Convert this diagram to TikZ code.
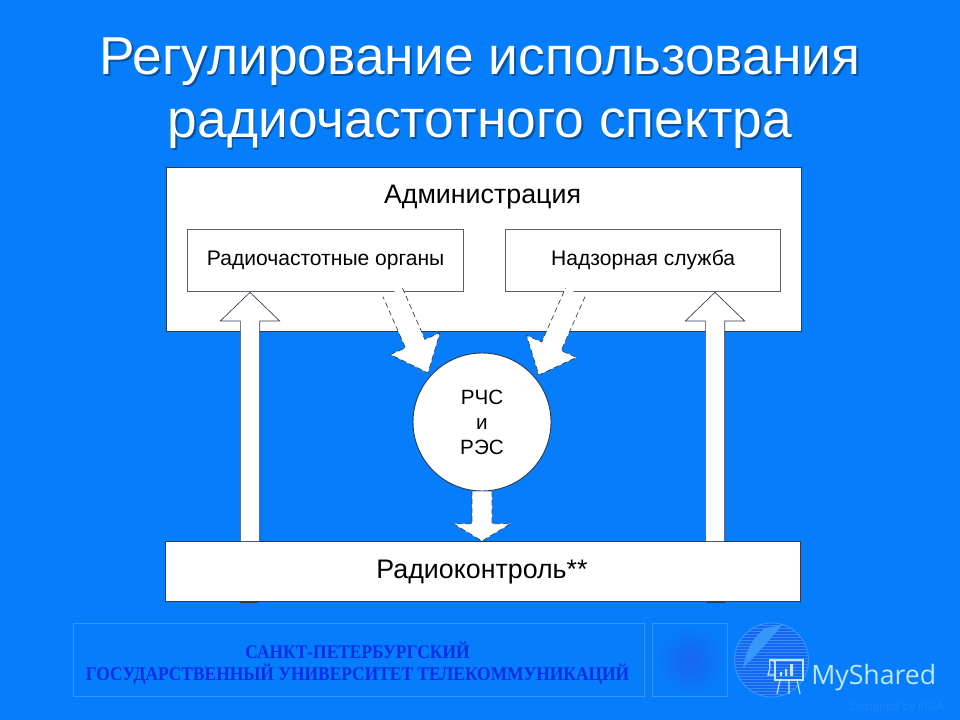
\documentclass[tikz,border=0pt]{standalone}
\usepackage{fontspec}
\setmainfont{Liberation Sans}
\newfontfamily\serifbold[BoldFont={Liberation Serif Bold}]{Liberation Serif}
\newfontfamily\wmfont{Open Sans}
\usetikzlibrary{calc}
\definecolor{bg}{RGB}{6,125,250}
\definecolor{edge}{RGB}{45,60,85}
\definecolor{inneredge}{RGB}{95,95,100}
\definecolor{foot}{RGB}{50,150,255}
\definecolor{foottext}{RGB}{10,45,230}
\definecolor{wm}{RGB}{190,230,255}
\definecolor{globe}{RGB}{25,100,240}
\newcommand\blockarrow[6][]{%
  \coordinate (neck) at ($(#3)!#6!(#2)$);
  \draw[blockline,#1]
    ($(#2)!#4/2!90:(#3)$) -- ($(neck)!#4/2!90:(#3)$) -- ($(neck)!#5/2!90:(#3)$) -- (#3)
    -- ($(neck)!#5/2!-90:(#3)$) -- ($(neck)!#4/2!-90:(#3)$) -- ($(#2)!#4/2!-90:(#3)$);
}
\tikzset{
  x=0.75pt,y=-0.75pt,
  blockline/.style={draw=edge,fill=white,line width=0.5pt,line join=miter},
  dashline/.style={dash pattern=on 4pt off 2.5pt},
  outerbox/.style={draw=edge,fill=white,line width=0.6pt,anchor=north west,inner sep=0pt},
  innerbox/.style={draw=inneredge,fill=white,line width=1pt,anchor=north west,inner sep=0pt,
    minimum width=207pt,minimum height=46.5pt,text height=11.5pt,text depth=3.5pt,
    font=\fontsize{15.8}{18}\selectfont},
  titletext/.style={anchor=base,text=white,inner sep=0pt,font=\fontsize{40}{46}\selectfont},
  titleshadow/.style={anchor=base,text=black!35!bg,inner sep=0pt,font=\fontsize{40}{46}\selectfont},
  bigtext/.style={inner sep=0pt,font=\fontsize{20.1}{22}\selectfont},
  foottxt/.style={anchor=base,inner sep=0pt,text=foottext,xscale=0.9,transform shape,
    font=\serifbold\bfseries\fontsize{14.5}{16}\selectfont},
  footbox/.style={draw=foot,line width=0.7pt,anchor=north west,inner sep=0pt},
}
\begin{document}
\begin{tikzpicture}
\useasboundingbox (0,0) rectangle (960,720);
\fill[bg] (0,0) rectangle (960,720);

% title
\node[titleshadow] (t1s) at (481.5,76.5) {Регулирование использования};
\node[titleshadow] (t2s) at (481.5,139.5) {радиочастотного спектра};
\node[titletext] (t1) at (480,75) {Регулирование использования};
\node[titletext] (t2) at (480,138) {радиочастотного спектра};

% boxes
\node[outerbox,minimum width=476.25pt,minimum height=123pt] (adm) at (166,167) {};
\node[bigtext,anchor=base] (admt) at (482.5,203.5) {Администрация};
\node[innerbox] (ro) at (187,229) {Радиочастотные органы};
\node[innerbox,minimum width=206.25pt] (nad) at (505,229) {Надзорная служба};
\node[circle,draw=edge,fill=white,line width=0.7pt,minimum size=103.5pt,inner sep=0pt,
  align=center,font=\fontsize{15.5}{18.75}\selectfont] (circ) at (482,422) {РЧС\\и\\РЭС};

% stub of the left and right arrows under the bar
\coordinate (stubl) at (240,602);
\coordinate (stubr) at (258,602);
\draw[edge,line width=0.7pt] (stubl) -- (stubr);
\coordinate (stubl2) at (707,602);
\coordinate (stubr2) at (725,602);
\draw[edge,line width=0.7pt] (stubl2) -- (stubr2);

% arrows
\coordinate (upltip) at ($(ro.south west)+(63,0)$);
\coordinate (uprtip) at ($(nad.south west)+(210,0)$);
\node[outerbox,minimum width=476.25pt,minimum height=45pt] (bar) at (165,541) {};
\node[bigtext,anchor=base] (bart) at (482,578) {Радиоконтроль**};
\coordinate (uplbase) at (upltip |- bar.north);
\coordinate (uprbase) at (uprtip |- bar.north);
\blockarrow{uplbase}{upltip}{14.5pt}{44.5pt}{21.5pt}
\blockarrow{uprbase}{uprtip}{14.5pt}{44.5pt}{21.5pt}

\coordinate (dls) at ($(ro.south west)+(205.7,0)$);
\coordinate (dlt) at ($(circ.center)+(-54,-49)$);
\coordinate (drs) at ($(nad.south west)+(70.3,0)$);
\coordinate (drt) at ($(circ.center)+(56.8,-47)$);
\blockarrow[dashline]{dls}{dlt}{16pt}{40.5pt}{24pt}
\blockarrow[dashline]{drs}{drt}{16pt}{41pt}{23.5pt}
\coordinate (dbt) at (circ.south |- bar.north);
\blockarrow[dashline]{circ.south}{dbt}{15pt}{43pt}{13pt}

% footer
\begin{scope}
\clip (653,625) rectangle (726,696);
\shade[inner color=globe,outer color=bg] (690,660) ellipse (34 and 35);
\end{scope}
\node[footbox,minimum width=428.25pt,minimum height=55pt] (f1) at (73,623) {};
\node[footbox,minimum width=56.25pt,minimum height=55pt] (f2) at (651.5,623) {};
\node[foottxt] (ft1) at (357.5,658) {САНКТ-ПЕТЕРБУРГСКИЙ};
\node[foottxt] (ft2) at (357.5,680) {ГОСУДАРСТВЕННЫЙ УНИВЕРСИТЕТ ТЕЛЕКОММУНИКАЦИЙ};

% globe
\begin{scope}
\clip (771.5,660) circle (37);
\fill[globe] (734,623) rectangle (809,697);
\foreach \yy in {625,628,...,697} \draw[bg!85!white,line width=0.3pt] (734,\yy) -- (809,\yy);
\fill[bg!80!white] (765,628) .. controls (750,640) and (745,655) .. (743,668) .. controls (756,655) and (770,640) .. (782,625) -- cycle;
\end{scope}
\draw[foot,line width=0.8pt] (771.5,660) circle (37);

% watermark
\begin{scope}[wm,line width=0.9pt]
\draw (775,660) -- (803,660) -- (803,680) -- (775,680) -- cycle;
\draw (774,662) .. controls (770,656) and (769,660) .. (770,668) -- (768,675) -- (775,675);
\draw (769,660) -- (800,660);
\fill (780,672) rectangle (782,676) (785,669) rectangle (787,676) (790,664) rectangle (793,676);
\draw (780,680) -- (777,694) (789,680) -- (789,694) (797,680) -- (800,694);
\end{scope}
\node[anchor=base west,inner sep=0pt,text=wm,font=\wmfont\fontsize{20}{24}\selectfont] (ms) at (811,684) {MyShared};
\node[anchor=base west,inner sep=0pt,text=bg!92!white,font=\wmfont\fontsize{8.5}{10}\selectfont] (des) at (850,710) {Designed by IRGA};
\end{tikzpicture}
\end{document}
